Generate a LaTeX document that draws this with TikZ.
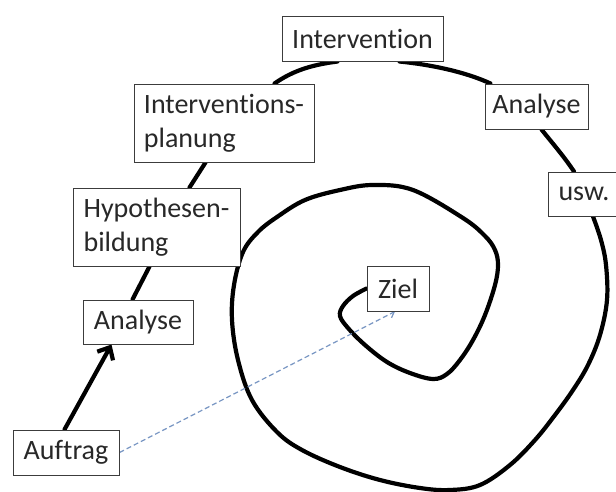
\documentclass[tikz,border=0pt]{standalone}
\usepackage{fontspec}
\setmainfont[Ligatures={NoCommon}]{Carlito}
\usetikzlibrary{arrows.meta}
\pgfdeclarelayer{bg}
\pgfsetlayers{bg,main}
\definecolor{dashblue}{RGB}{120,150,195}
\definecolor{boxline}{RGB}{60,60,60}
\definecolor{txt}{RGB}{40,40,40}
\tikzset{
  box/.style={draw=boxline, line width=1pt, fill=white, inner sep=0pt,
    font=\fontsize{28}{34}\selectfont, text=txt, align=left},
  mainline/.style={line width=4.2pt, line cap=round, line join=round},
  goalarrow/.style={draw=dashblue, line width=1.2pt, dash pattern=on 5pt off 3pt,
    -{Straight Barb[length=5pt,width=8pt]}}
}
\begin{document}
\begin{tikzpicture}[x=1pt,y=-1pt]
\useasboundingbox (0,0) rectangle (616,491);
\clip (0,0) rectangle (616,491);
% nodes
\node[box, minimum width=161pt, minimum height=45pt] (interv) at (362.5,38.5) {Intervention};
\node[box, minimum width=180pt, minimum height=78pt] (plan) at (224,123) {Interventions-\\planung};
\node[box, minimum width=103pt, minimum height=45pt] (anaB) at (536.5,106.5) {Analyse};
\node[box, minimum height=44pt, inner xsep=10pt, anchor=west] (usw) at (548,194) {usw.};
\node[box, minimum width=167pt, minimum height=78pt] (hyp) at (156.5,227) {Hypothesen-\\bildung};
\node[box, minimum width=110pt, minimum height=44pt] (anaA) at (138,322) {Analyse};
\node[box, minimum width=106pt, minimum height=45pt] (auftrag) at (66,452.5) {Auftrag};
\node[box, minimum width=62pt, minimum height=45pt] (ziel) at (398,288.5) {Ziel};
% connectors
\begin{pgfonlayer}{bg}
\fill[white] (0,0) rectangle (616,491);
\draw[mainline, -{Straight Barb[length=10pt,width=18pt]}]
  ([xshift=52pt]auftrag.north west) -- ([xshift=29pt]anaA.south west);
\draw[mainline] ([xshift=50pt]anaA.north west) -- ([xshift=77pt]hyp.south west);
\draw[mainline] ([xshift=117pt]hyp.north west) -- ([xshift=72pt]plan.south west);
\draw[mainline] ([xshift=141pt]plan.north west)
  .. controls +(20,-14) and +(-23,3) .. ([xshift=56pt]interv.south west);
\draw[mainline] ([xshift=118pt]interv.south west)
  .. controls +(30,3) and +(-26,-12) .. ([xshift=6pt]anaB.north west);
\draw[mainline] ([xshift=57pt]anaB.south west)
  .. controls +(12,15) and +(-10,-15) .. ([xshift=26pt]usw.north west);
\draw[mainline] plot[smooth, tension=0.6] coordinates {
  ([xshift=45pt]usw.south west) (601,240) (606,265) (607,300) (600,335)
  (588,365) (573,390) (555,415) (535,440) (510,465) (480,485) (450,490)
  (420,488) (380,480) (340,467) (302,450) (277,432) (252,400) (238,360)
  (232,320) (234,285) (243,252) (258,232) (277,217) (305,200) (340,190)
  (373,185) (413,190) (463,218) (485,236) (495,250) (498,265) (495,285)
  (485,315) (473,340) (460,360) (447,374) (433,379) (410,373) (387,362)
  (365,345) (348,328) (340,316) (343,306) (353,296) (ziel.west)};
\draw[goalarrow] (auftrag.east) -- ([xshift=-3pt]ziel.south);
\end{pgfonlayer}
\end{tikzpicture}
\end{document}
